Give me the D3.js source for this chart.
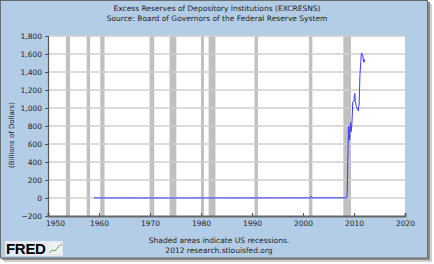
<!DOCTYPE html>
<html><head><meta charset="utf-8">
<script src="https://cdn.jsdelivr.net/npm/d3@7"></script>
<style>html,body{margin:0;padding:0;background:#fff;}svg{display:block;}</style>
</head><body>
<svg id="chart" width="434" height="264"></svg>
<script>
const titleLines = ["Excess Reserves of Depository Institutions (EXCRESNS)", "Source: Board of Governors of the Federal Reserve System"];
const yLabel = "(Billions of Dollars)";
const footLines = ["Shaded areas indicate US recessions.", "2012 research.stlouisfed.org"];
const yTicks = [-200, 0, 200, 400, 600, 800, 1000, 1200, 1400, 1600, 1800];
const xTickYears = [1950, 1960, 1970, 1980, 1990, 2000, 2010, 2020];
const recessionStarts = ["1953-07", "1957-08", "1960-04", "1969-12", "1973-11", "1980-01", "1981-07", "1990-07", "2001-03", "2007-12"];
const recessionEnds   = ["1954-05", "1958-04", "1961-02", "1970-11", "1975-03", "1980-07", "1982-11", "1991-03", "2001-11", "2009-06"];
const dates = ["1959-01","1960-01","1962-01","1965-01","1968-01","1970-01","1973-01","1975-01","1978-01","1980-01","1983-01","1985-01","1988-01","1990-01","1993-01","1995-01","1998-01","2000-01","2001-08","2001-09","2001-10","2003-01","2005-01","2007-01","2008-08",
  "2008-09","2008-10","2008-11","2008-12","2009-01","2009-02","2009-03","2009-04","2009-05","2009-06","2009-07","2009-08","2009-09","2009-10","2009-11","2009-12",
  "2010-01","2010-02","2010-03","2010-04","2010-05","2010-06","2010-07","2010-08","2010-09","2010-10","2010-11","2010-12",
  "2011-01","2011-02","2011-03","2011-04","2011-05","2011-06","2011-07","2011-08","2011-09","2011-10","2011-11","2011-12","2012-01","2012-02"];
const values = [0.5,0.7,0.6,0.4,0.3,0.2,0.3,0.3,0.3,0.5,0.8,1.0,1.0,1.0,1.1,1.1,1.4,1.0,1.3,19.0,1.8,1.6,1.8,1.6,1.9,
  59.6,267,559,767,798,643,651,776,840,736,758,826,925,1059,1073,1075,
  1075,1143,1160,1068,1053,1032,1016,1000,986,983,968,1017,
  1023,1197,1361,1434,1513,1594,1612,1603,1593,1567,1526,1508,1540,1515];

const parse = d3.timeParse("%Y-%m");
const series = dates.map((d, i) => ({date: parse(d), value: values[i]}));
const svg = d3.select("#chart");
const font = "DejaVu Sans, Verdana, sans-serif";

// frame with shadow
svg.append("rect").attr("x", 4).attr("y", 4).attr("width", 428).attr("height", 258).attr("fill", "#d0d0d0");
svg.append("rect").attr("x", 2).attr("y", 2).attr("width", 428).attr("height", 258).attr("fill", "#8a8a8a");
svg.append("rect").attr("x", 0.5).attr("y", 0.5).attr("width", 427).attr("height", 257.5)
  .attr("fill", "#b4cde6").attr("stroke", "#6b6b6b").attr("stroke-width", 1);

const L = 48, R = 405, T = 36, B = 216;
const x = d3.scaleTime().domain([new Date(1950,0,1), new Date(2020,0,1)]).range([L, R]);
const y = d3.scaleLinear().domain([-200, 1800]).range([B, T]);

svg.append("rect").attr("x", L).attr("y", T).attr("width", R - L).attr("height", B - T).attr("fill", "#fff");

// recessions
svg.append("g").selectAll("rect").data(recessionStarts).join("rect")
  .attr("x", (d) => x(parse(d)))
  .attr("width", (d, i) => Math.max(3, x(parse(recessionEnds[i])) - x(parse(d))))
  .attr("y", T).attr("height", B - T).attr("fill", "#c0c0c0");

// gridlines
svg.append("g").selectAll("line").data(yTicks.filter(v => v > -200)).join("line")
  .attr("x1", L).attr("x2", R).attr("y1", d => y(d)).attr("y2", d => y(d))
  .attr("stroke", "#cfcfcf").attr("stroke-width", 1.5);

// line
svg.append("path").datum(series)
  .attr("d", d3.line().x(d => x(d.date)).y(d => y(d.value)))
  .attr("fill", "none").attr("stroke", "#3a3aff").attr("stroke-width", 1);

// y axis
const yAxis = svg.append("g").attr("transform", `translate(${L},0)`)
  .call(d3.axisLeft(y).tickValues(yTicks).tickSize(3).tickPadding(3).tickFormat(d3.format(",")));
yAxis.select(".domain").attr("stroke", "#555").attr("stroke-width", 1.2);
yAxis.selectAll(".tick line").attr("stroke", "#555");
yAxis.selectAll("text").attr("font-family", font).attr("font-size", "7.5px").attr("fill", "#222");

// x axis
const xAxis = svg.append("g").attr("transform", `translate(0,${B})`)
  .call(d3.axisBottom(x).tickValues(xTickYears.map(v => new Date(v,0,1))).tickSize(-3).tickPadding(5).tickFormat(d3.timeFormat("%Y")));
xAxis.select(".domain").attr("stroke", "#666").attr("stroke-width", 2);
xAxis.selectAll(".tick line").attr("stroke", "#555");
xAxis.selectAll("text").attr("font-family", font).attr("font-size", "7.5px").attr("fill", "#222");
xAxis.selectAll(".tick").filter((d, i) => i === 0).select("text").attr("dx", 7);

// titles
svg.append("g").selectAll("text").data(titleLines).join("text")
  .attr("x", 217).attr("y", (d, i) => 11 + i * 10).attr("text-anchor", "middle")
  .attr("font-family", font).attr("font-size", "7.5px").attr("fill", "#222").text(d => d);

svg.append("text").attr("transform", "translate(14,135) rotate(-90)").attr("text-anchor", "middle")
  .attr("font-family", font).attr("font-size", "7px").attr("fill", "#222").text(yLabel);

svg.append("g").selectAll("text").data(footLines).join("text")
  .attr("x", 219).attr("y", (d, i) => 243 + i * 9.5).attr("text-anchor", "middle")
  .attr("font-family", font).attr("font-size", "7.5px").attr("fill", "#222").text(d => d);

// FRED logo
const logo = svg.append("g");
logo.append("rect").attr("x", 5).attr("y", 241).attr("width", 58).attr("height", 15).attr("fill", "#e4eaf0");
logo.append("text").attr("x", 6).attr("y", 254).attr("font-family", "Liberation Sans, Arial, sans-serif")
  .attr("font-weight", "bold").attr("font-size", "15px").attr("fill", "#000").attr("letter-spacing", "-0.3").text("FRED");
logo.append("rect").attr("x", 49).attr("y", 243).attr("width", 13).attr("height", 11).attr("fill", "#eef2f0");
logo.append("path").attr("d", "M49,253 L52,250 L55,251 L58,247 L62,244").attr("fill", "none").attr("stroke", "#6aa84f").attr("stroke-width", 1);
</script>
</body></html>
